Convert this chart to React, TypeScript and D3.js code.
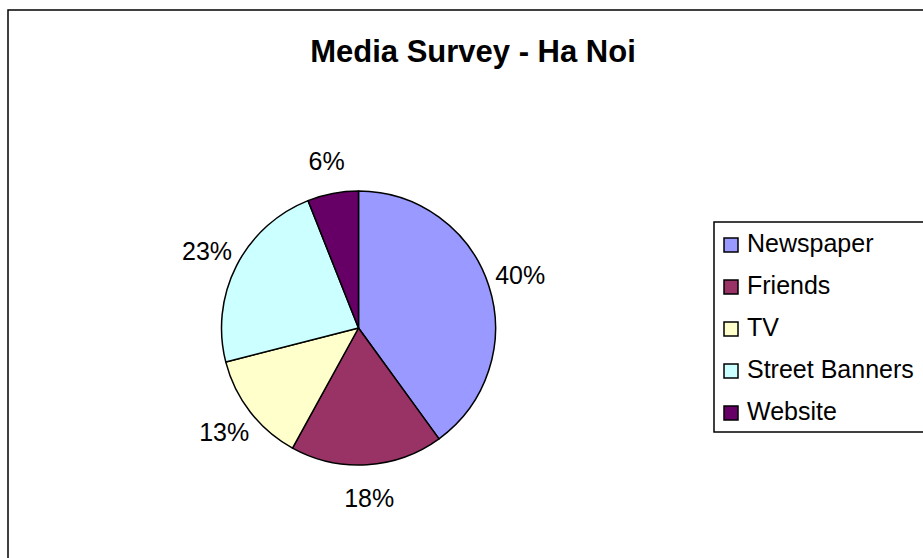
import React from "react";
import * as d3 from "d3";

const categories = ["Newspaper", "Friends", "TV", "Street Banners", "Website"];
const values = [40, 18, 13, 23, 6];
const colors = ["#9999FF", "#993366", "#FFFFCC", "#CCFFFF", "#660066"];
const title = "Media Survey - Ha Noi";

export default function App() {
  const W = 923;
  const H = 558;
  const cx = 358.5;
  const cy = 328;
  const r = 137;
  const labelR = 170;
  const font = "Liberation Sans, Arial, sans-serif";

  const pie = d3
    .pie<number>()
    .sort(null)
    .value((d) => d)
    .startAngle(0)
    .endAngle(2 * Math.PI);
  const arcs = pie(values);
  const arc = d3.arc<d3.PieArcDatum<number>>().innerRadius(0).outerRadius(r);
  const labelArc = d3
    .arc<d3.PieArcDatum<number>>()
    .innerRadius(labelR)
    .outerRadius(labelR);
  const total = d3.sum(values);

  const legendY = d3
    .scalePoint<string>()
    .domain(categories)
    .range([252, 420]);

  return (
    <svg
      width={W}
      height={H}
      style={{ position: "absolute", left: 0, top: 0, background: "#fff" }}
    >
      <rect x={0} y={0} width={W} height={H} fill="#fff" />
      <rect
        x={8}
        y={10}
        width={W + 20}
        height={H + 20}
        fill="#fff"
        stroke="#000"
        strokeWidth={1.5}
      />
      <text
        x={473}
        y={62}
        textAnchor="middle"
        fontFamily={font}
        fontWeight="bold"
        fontSize={31}
        fill="#000"
      >
        {title}
      </text>
      <g transform={`translate(${cx},${cy})`}>
        {arcs.map((a, i) => (
          <path
            key={categories[i]}
            d={arc(a) || ""}
            fill={colors[i]}
            stroke="#000"
            strokeWidth={1.5}
            strokeLinejoin="round"
          />
        ))}
        {arcs.map((a, i) => {
          const [lx, ly] = labelArc.centroid(a);
          return (
            <text
              key={"l" + categories[i]}
              x={lx}
              y={ly + 9}
              textAnchor="middle"
              fontFamily={font}
              fontSize={25}
              fill="#000"
            >
              {`${Math.round((values[i] / total) * 100)}%`}
            </text>
          );
        })}
      </g>
      <rect
        x={714}
        y={222}
        width={230}
        height={210}
        fill="#fff"
        stroke="#000"
        strokeWidth={1.5}
      />
      {categories.map((c, i) => {
        const y = legendY(c) as number;
        return (
          <g key={"lg" + c}>
            <rect
              x={724}
              y={y - 14}
              width={14}
              height={14}
              fill={colors[i]}
              stroke="#000"
              strokeWidth={1.5}
            />
            <text
              x={747}
              y={y}
              fontFamily={font}
              fontSize={25}
              fill="#000"
            >
              {c}
            </text>
          </g>
        );
      })}
    </svg>
  );
}
